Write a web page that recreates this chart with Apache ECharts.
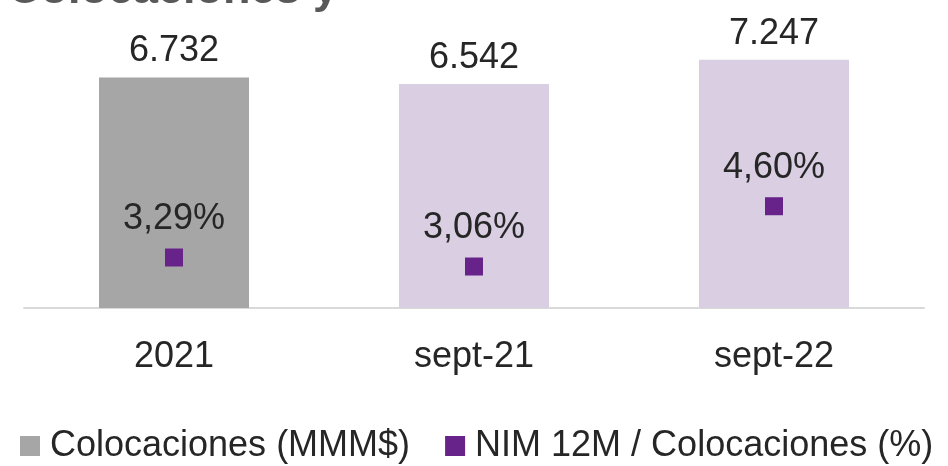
<!DOCTYPE html>
<html>
<head>
<meta charset="utf-8">
<script src="https://cdn.jsdelivr.net/npm/echarts@6/dist/echarts.min.js"></script>
<style>html,body{margin:0;padding:0;background:#fff}#c{width:948px;height:466px}</style>
</head>
<body>
<div id="c"></div>
<script>
const categories = ['2021', 'sept-21', 'sept-22'];
const colocaciones = [6732, 6542, 7247];
const nim = [3.29, 3.06, 4.60];
const barColors = ['#a6a6a6', '#d9cee2', '#d9cee2'];
const seriesNames = ['Colocaciones (MMM$)', 'NIM 12M / Colocaciones (%)'];
const titleText = 'Colocaciones y';

const fmtThousands = v => String(v).replace(/\B(?=(\d{3})+(?!\d))/g, '.');
const fmtPct = v => v.toFixed(2).replace('.', ',') + '%';
const FONT = '"Liberation Sans", Arial, sans-serif';
const FS = 36;

const chart = echarts.init(document.getElementById('c'));
chart.setOption({
  animation: false,
  textStyle: { fontFamily: FONT },
  graphic: [{
    type: 'text', left: 8, top: -32,
    style: { text: titleText, fontSize: 45, fontWeight: 'bold', fill: '#595959', fontFamily: FONT }
  }],
  grid: { left: 24, right: 24, top: 34, bottom: 158 },
  legend: {
    left: 20, top: 428, itemWidth: 20, itemHeight: 20, itemGap: 35, padding: 0,
    icon: 'rect',
    textStyle: { fontSize: FS, color: '#262626', fontFamily: FONT, padding: [2, 0, 0, 5] },
    data: [
      { name: seriesNames[0], itemStyle: { color: '#a6a6a6' } },
      { name: seriesNames[1], itemStyle: { color: '#68238b' } }
    ]
  },
  xAxis: {
    type: 'category', data: categories,
    axisLine: { lineStyle: { color: '#d9d9d9', width: 2 } },
    axisTick: { show: false },
    axisLabel: { fontSize: FS, color: '#262626', margin: 31 }
  },
  yAxis: [
    { type: 'value', min: 0, max: 8000, show: false, splitLine: { show: false } },
    { type: 'value', min: 2, max: 9, show: false, splitLine: { show: false } }
  ],
  series: [
    {
      name: seriesNames[0], type: 'bar', barWidth: '50%',
      data: colocaciones.map((v, i) => ({ value: v, itemStyle: { color: barColors[i] } })),
      itemStyle: { color: '#a6a6a6' },
      label: { show: true, position: 'top', distance: 8, fontSize: FS, color: '#262626', formatter: p => fmtThousands(p.value) }
    },
    {
      name: seriesNames[1], type: 'scatter', yAxisIndex: 1,
      symbol: 'rect', symbolSize: 18,
      itemStyle: { color: '#68238b', opacity: 1 },
      data: nim,
      label: { show: true, position: 'top', distance: 11, fontSize: FS, color: '#262626', formatter: p => fmtPct(p.value) }
    }
  ]
});
</script>
</body>
</html>
